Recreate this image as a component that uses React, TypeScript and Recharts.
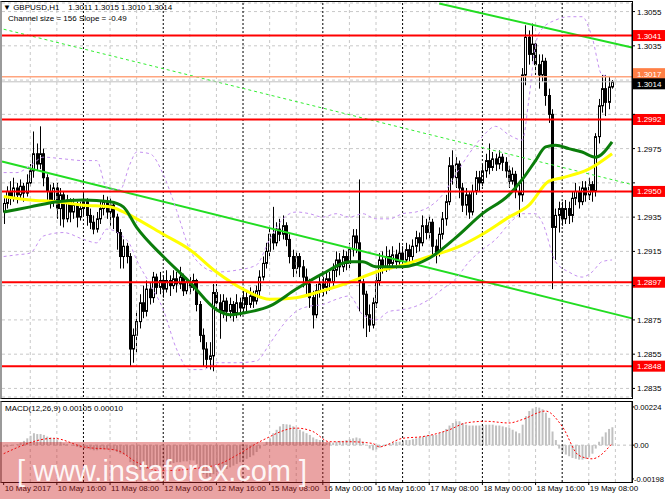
import React from 'react'
import { ComposedChart, Bar, Line, XAxis, YAxis, CartesianGrid, ReferenceLine } from 'recharts'

const FONT = '"Liberation Sans", Arial, sans-serif'

// GBPUSD H1, 10 May 00:00 .. 19 May 15:00 (open of a bar = previous close)
const FIRST_OPEN = 1.2938
const CLOSE = [
  1.2943, 1.2950, 1.2946, 1.2952, 1.2948, 1.2953, 1.2949, 1.2955, 1.2962, 1.2972,
  1.2966, 1.2972, 1.2958, 1.2950, 1.2944, 1.2952, 1.2940, 1.2948, 1.2934, 1.2945,
  1.2938, 1.2942, 1.2935, 1.2940, 1.2944, 1.2936, 1.2932, 1.2928, 1.2934, 1.2940,
  1.2944, 1.2938, 1.2942, 1.2935, 1.2926, 1.2912, 1.2918, 1.2912, 1.2858, 1.2866,
  1.2874, 1.2885, 1.2880, 1.2893, 1.2888, 1.2900, 1.2894, 1.2898, 1.2893, 1.2898,
  1.2895, 1.2899, 1.2896, 1.2900, 1.2892, 1.2897, 1.2894, 1.2898, 1.2884, 1.2866,
  1.2858, 1.2852, 1.2854, 1.2891, 1.2885, 1.2880, 1.2886, 1.2880, 1.2884, 1.2879,
  1.2885, 1.2882, 1.2888, 1.2884, 1.2889, 1.2886, 1.2892, 1.2900, 1.2908, 1.2915,
  1.2925, 1.2920, 1.2928, 1.2925, 1.2930, 1.2922, 1.2912, 1.2905, 1.2912, 1.2906,
  1.2900, 1.2896, 1.2888, 1.2878, 1.2892, 1.2896, 1.2894, 1.2899, 1.2897, 1.2904,
  1.2910, 1.2906, 1.2912, 1.2908, 1.2916, 1.2924, 1.2920, 1.2897, 1.2890, 1.2878,
  1.2872, 1.2885, 1.2898, 1.2910, 1.2906, 1.2912, 1.2908, 1.2913, 1.2909, 1.2914,
  1.2910, 1.2916, 1.2912, 1.2918, 1.2923, 1.2920, 1.2930, 1.2926, 1.2932, 1.2918,
  1.2914, 1.2925, 1.2934, 1.2944, 1.2965, 1.2958, 1.2966, 1.2952, 1.2942, 1.2948,
  1.2938, 1.2950, 1.2958, 1.2955, 1.2962, 1.2968, 1.2964, 1.2969, 1.2966, 1.2970,
  1.2967, 1.2962, 1.2956, 1.2960, 1.2950, 1.2948, 1.3018, 1.3040, 1.3030, 1.3036,
  1.3024, 1.3018, 1.3026, 1.3006, 1.2995, 1.2929, 1.2936, 1.2940, 1.2934, 1.2940,
  1.2936, 1.2946, 1.2950, 1.2944, 1.2952, 1.2948, 1.2954, 1.2950, 1.2982, 1.3000,
  1.3010, 1.3002, 1.3011, 1.3014,
]
const HIGH = [
  1.2946, 1.2953, 1.2956, 1.2958, 1.2955, 1.2957, 1.2955, 1.2960, 1.2966, 1.2985,
  1.2978, 1.2988, 1.2975, 1.2960, 1.2954, 1.2955, 1.2955, 1.2952, 1.2950, 1.2948,
  1.2946, 1.2946, 1.2944, 1.2944, 1.2949, 1.2946, 1.2940, 1.2936, 1.2938, 1.2945,
  1.2948, 1.2947, 1.2946, 1.2944, 1.2937, 1.2928, 1.2922, 1.2920, 1.2914, 1.2870,
  1.2880, 1.2890, 1.2895, 1.2898, 1.2897, 1.2903, 1.2902, 1.2903, 1.2901, 1.2904,
  1.2901, 1.2904, 1.2903, 1.2906, 1.2902, 1.2900, 1.2900, 1.2902, 1.2899, 1.2886,
  1.2870, 1.2862, 1.2862, 1.2896, 1.2896, 1.2890, 1.2890, 1.2888, 1.2888, 1.2886,
  1.2890, 1.2888, 1.2893, 1.2892, 1.2894, 1.2892, 1.2895, 1.2904, 1.2912, 1.2920,
  1.2930, 1.2941, 1.2932, 1.2934, 1.2936, 1.2932, 1.2925, 1.2916, 1.2915, 1.2914,
  1.2910, 1.2905, 1.2899, 1.2892, 1.2896, 1.2900, 1.2900, 1.2903, 1.2903, 1.2908,
  1.2915, 1.2914, 1.2916, 1.2915, 1.2920, 1.2928, 1.2928, 1.2957, 1.2899, 1.2892,
  1.2884, 1.2888, 1.2902, 1.2914, 1.2915, 1.2918, 1.2916, 1.2918, 1.2916, 1.2920,
  1.2918, 1.2920, 1.2919, 1.2922, 1.2927, 1.2926, 1.2936, 1.2934, 1.2936, 1.2934,
  1.2922, 1.2929, 1.2938, 1.2948, 1.2970, 1.2974, 1.2970, 1.2968, 1.2955, 1.2952,
  1.2950, 1.2954, 1.2962, 1.2962, 1.2966, 1.2972, 1.2978, 1.2973, 1.2972, 1.2974,
  1.2972, 1.2970, 1.2965, 1.2964, 1.2962, 1.2954, 1.3022, 1.3047, 1.3044, 1.3048,
  1.3038, 1.3030, 1.3030, 1.3028, 1.3010, 1.2998, 1.2940, 1.2944, 1.2944, 1.2945,
  1.2944, 1.2950, 1.2955, 1.2953, 1.2956, 1.2956, 1.2958, 1.2956, 1.2984, 1.3004,
  1.3018, 1.3018, 1.3017, 1.3015,
]
const LOW = [
  1.2931, 1.2940, 1.2942, 1.2944, 1.2943, 1.2945, 1.2944, 1.2947, 1.2953, 1.2958,
  1.2962, 1.2963, 1.2953, 1.2944, 1.2940, 1.2941, 1.2934, 1.2930, 1.2929, 1.2932,
  1.2932, 1.2934, 1.2929, 1.2933, 1.2936, 1.2930, 1.2928, 1.2925, 1.2926, 1.2931,
  1.2936, 1.2934, 1.2930, 1.2928, 1.2916, 1.2905, 1.2905, 1.2908, 1.2848, 1.2850,
  1.2856, 1.2870, 1.2876, 1.2877, 1.2884, 1.2885, 1.2890, 1.2890, 1.2888, 1.2891,
  1.2889, 1.2893, 1.2891, 1.2893, 1.2889, 1.2890, 1.2890, 1.2892, 1.2880, 1.2862,
  1.2848, 1.2847, 1.2846, 1.2845, 1.2880, 1.2864, 1.2876, 1.2874, 1.2876, 1.2874,
  1.2876, 1.2877, 1.2879, 1.2880, 1.2882, 1.2882, 1.2884, 1.2889, 1.2898, 1.2905,
  1.2912, 1.2916, 1.2918, 1.2921, 1.2922, 1.2918, 1.2908, 1.2900, 1.2902, 1.2900,
  1.2894, 1.2890, 1.2882, 1.2870, 1.2876, 1.2888, 1.2889, 1.2890, 1.2892, 1.2895,
  1.2900, 1.2901, 1.2903, 1.2904, 1.2905, 1.2912, 1.2914, 1.2880, 1.2870, 1.2865,
  1.2868, 1.2870, 1.2882, 1.2895, 1.2902, 1.2903, 1.2904, 1.2905, 1.2905, 1.2906,
  1.2906, 1.2907, 1.2908, 1.2909, 1.2914, 1.2915, 1.2918, 1.2922, 1.2922, 1.2912,
  1.2908, 1.2912, 1.2922, 1.2930, 1.2942, 1.2954, 1.2952, 1.2946, 1.2938, 1.2936,
  1.2934, 1.2936, 1.2948, 1.2950, 1.2953, 1.2958, 1.2960, 1.2962, 1.2962, 1.2963,
  1.2962, 1.2958, 1.2952, 1.2954, 1.2946, 1.2935, 1.2944, 1.3012, 1.3024, 1.3026,
  1.3018, 1.3010, 1.3014, 1.3000, 1.2990, 1.2893, 1.2910, 1.2926, 1.2930, 1.2931,
  1.2931, 1.2932, 1.2942, 1.2940, 1.2942, 1.2944, 1.2945, 1.2944, 1.2947, 1.2978,
  1.2996, 1.2994, 1.2998, 1.3010,
]

// indicator lines at these bar indexes
const GREEN_AT = [0, 8, 16, 24, 32, 36, 40, 48, 56, 64, 68, 72, 80, 88, 96, 104, 108, 112, 120, 128, 136, 144, 152, 156, 160, 163, 166, 170, 174, 178, 183]
const GREEN_MA = [1.2938, 1.2941, 1.2944, 1.2945, 1.2944, 1.2941, 1.2929, 1.2912, 1.2897, 1.2881, 1.2878, 1.2879, 1.2883, 1.2893, 1.2902, 1.2909, 1.2909, 1.2906, 1.2906, 1.2911, 1.2923, 1.2937, 1.2948, 1.2957, 1.2968, 1.2976, 1.2977, 1.2975, 1.2973, 1.2970, 1.2979]
const YELLOW_AT = [0, 8, 16, 24, 32, 36, 40, 48, 56, 64, 72, 80, 88, 96, 104, 112, 120, 128, 136, 144, 152, 158, 164, 168, 176, 183]
const YELLOW_MA = [1.2947, 1.2945, 1.2944, 1.2942, 1.2941, 1.2938, 1.2934, 1.2925, 1.2916, 1.2903, 1.2893, 1.2887, 1.2888, 1.2892, 1.2897, 1.2903, 1.2907, 1.2912, 1.2917, 1.2925, 1.2935, 1.2942, 1.2956, 1.2958, 1.2963, 1.2972]
const BAND_AT = [0, 4, 8, 12, 18, 24, 28, 31, 35, 38, 40, 44, 48, 52, 56, 60, 64, 70, 76, 80, 84, 88, 92, 96, 100, 104, 108, 112, 116, 120, 124, 128, 132, 136, 140, 144, 148, 152, 156, 158, 160, 162, 166, 170, 174, 177, 180, 183]
const BAND_UP = [1.2961, 1.2961, 1.2965, 1.2970, 1.2969, 1.2968, 1.2968, 1.2952, 1.2951, 1.2966, 1.2973, 1.2972, 1.2960, 1.2939, 1.2916, 1.2906, 1.2903, 1.2904, 1.2907, 1.2922, 1.2934, 1.2938, 1.2937, 1.2935, 1.2937, 1.2935, 1.2937, 1.2934, 1.2934, 1.2937, 1.2938, 1.2941, 1.2948, 1.2960, 1.2972, 1.2982, 1.2988, 1.2983, 1.2980, 1.3004, 1.3036, 1.3045, 1.3050, 1.3052, 1.3052, 1.3040, 1.3018, 1.3017]
const BAND_DN = [1.2912, 1.2913, 1.2914, 1.2924, 1.2926, 1.2922, 1.2920, 1.2928, 1.2925, 1.2919, 1.2910, 1.2896, 1.2881, 1.2858, 1.2846, 1.2846, 1.2850, 1.2850, 1.2851, 1.2861, 1.2872, 1.2880, 1.2883, 1.2884, 1.2887, 1.2889, 1.2878, 1.2875, 1.2880, 1.2881, 1.2883, 1.2887, 1.2893, 1.2899, 1.2909, 1.2916, 1.2922, 1.2931, 1.2937, 1.2937, 1.2937, 1.2932, 1.2909, 1.2903, 1.2900, 1.2903, 1.2909, 1.2910]

const MACD = [
  -0.0001, -0.0001, -0.00005, 0, 0.00005, 0.00015, 0.00025, 0.0004, 0.00055, 0.0007,
  0.00065, 0.00065, 0.0006, 0.0005, 0.00045, 0.0004, 0.0003, 0.0002, 0.0001, 0.00005,
  0, -0.00005, -0.0001, -0.00015, -0.0002, -0.0002, -0.00025, -0.0003, -0.0003, -0.00025,
  -0.00025, -0.00025, -0.00025, -0.0003, -0.0004, -0.0005, -0.00055, -0.0006, -0.001, -0.0013,
  -0.0014, -0.00145, -0.00145, -0.0014, -0.00135, -0.0013, -0.00125, -0.0012, -0.0012, -0.00115,
  -0.0011, -0.00105, -0.001, -0.001, -0.00095, -0.00095, -0.0009, -0.0009, -0.0011, -0.0014,
  -0.0017, -0.0019, -0.00198, -0.0017, -0.0016, -0.00155, -0.0015, -0.0014, -0.0013, -0.0012,
  -0.0011, -0.001, -0.0009, -0.0008, -0.0007, -0.0006, -0.0004, -0.0002, 0, 0.0002,
  0.0004, 0.0007, 0.0009, 0.0011, 0.00124, 0.00122, 0.0012, 0.0011, 0.001, 0.0009,
  0.0008, 0.0007, 0.0006, 0.00045, 0.00035, 0.0003, 0.0002, 0.00015, 0.00015, 0.00015,
  0.0002, 0.00025, 0.00025, 0.0003, 0.00035, 0.0004, 0.00045, 0.0004, 0.0002, 0,
  -0.0002, -0.0003, -0.00025, -0.00015, -0.00005, 0.00005, 0.0001, 0.00015, 0.0002, 0.0002,
  0.00025, 0.0003, 0.0003, 0.00035, 0.0004, 0.00045, 0.0005, 0.00055, 0.0006, 0.0006,
  0.0006, 0.0007, 0.0008, 0.00095, 0.00115, 0.0013, 0.0014, 0.0014, 0.0013, 0.0012,
  0.00115, 0.00115, 0.00115, 0.00115, 0.00115, 0.0012, 0.0012, 0.0012, 0.00115, 0.00115,
  0.0011, 0.00105, 0.001, 0.0009, 0.0008, 0.0007, 0.0012, 0.0017, 0.002, 0.00215,
  0.00224, 0.0022, 0.0021, 0.0019, 0.0016, 0.0008, 0.0003, -0.0002, -0.0004, -0.00055,
  -0.00065, -0.00075, -0.0008, -0.00085, -0.00085, -0.0008, -0.0007, -0.0005, -0.0002, 0.0002,
  0.0005, 0.00075, 0.00095, 0.00105,
]
const SIGNAL_AT = [0, 15, 24, 34, 40, 47, 56, 65, 70, 78, 88, 93, 98, 104, 111, 113, 120, 126, 134, 139, 145, 152, 156, 163, 168, 173, 177, 183]
const SIGNAL = [-0.0005, 0.0004, -0.0001, -0.0003, -0.001, -0.0015, -0.0014, -0.0011, -0.0006, 0.0003, 0.001, 0.0008, 0.0002, 0.0002, 0.0001, -0.0001, 0.0004, 0.0005, 0.0009, 0.0013, 0.0014, 0.0013, 0.0015, 0.002, 0.0011, -0.0006, -0.0008, 0.0001]

const PRICE_TICKS = [1.2835, 1.2855, 1.2875, 1.2895, 1.2915, 1.2935, 1.2955, 1.2975, 1.2995, 1.3015, 1.3035, 1.3055]
const COVERED_TICKS = [1.2895, 1.2955, 1.2995, 1.3015]
const MACD_TICKS = [-0.00198, 0, 0.00224]
const TIME_AT = [0, 16, 32, 48, 64, 80, 96, 112, 128, 144, 160, 176]
const TIME_LABELS = ['10 May 2017', '10 May 16:00', '11 May 08:00', '12 May 00:00', '12 May 16:00', '15 May 08:00', '16 May 00:00', '16 May 16:00', '17 May 08:00', '18 May 00:00', '18 May 16:00', '19 May 08:00']
const GRID_AT = [8, 16, 32, 40, 56, 64, 80, 88, 104, 112, 128, 136, 152, 160, 176, 184]
const DAY_AT = [24, 48, 72, 96, 120, 144, 168]

const RED_LEVELS = [1.3041, 1.2992, 1.295, 1.2897, 1.2848]
const ASK = 1.3017
const BID = 1.3014
const CHANNEL_TOP = [{ x: 131, y: 1.30597 }, { x: 189, y: 1.3034 }]
const CHANNEL_BOTTOM = [{ x: -0.5, y: 1.29675 }, { x: 189, y: 1.28759 }]
const CHANNEL_MID = [{ x: 0, y: 1.30447 }, { x: 189, y: 1.2954 }]

const pick = (at: number[], vals: number[], i: number) => {
  const k = at.indexOf(i)
  return k < 0 ? null : vals[k]
}

const rows = CLOSE.map((c, i) => ({
  i,
  o: i === 0 ? FIRST_OPEN : CLOSE[i - 1],
  h: HIGH[i],
  l: LOW[i],
  c,
  green: pick(GREEN_AT, GREEN_MA, i),
  yellow: pick(YELLOW_AT, YELLOW_MA, i),
  up: pick(BAND_AT, BAND_UP, i),
  dn: pick(BAND_AT, BAND_DN, i),
  m: MACD[i],
  s: pick(SIGNAL_AT, SIGNAL, i),
}))

function Candle(props: any) {
  const { x, y, width, height, payload } = props
  if (x == null || y == null || !payload) return <g />
  const top = Math.min(y, y + height)
  const bot = Math.max(y, y + height)
  const span = payload.h - payload.l
  const at = (v: number) => (span > 0 ? top + ((payload.h - v) / span) * (bot - top) : top)
  const cx = Math.round(x + width / 2) + 0.5
  const yo = at(payload.o)
  const yc = at(payload.c)
  const bull = payload.c >= payload.o
  const bt = Math.min(yo, yc)
  const bh = Math.max(Math.abs(yc - yo), 1)
  return (
    <g>
      <line x1={cx} x2={cx} y1={top} y2={bot} stroke="#000" strokeWidth={1} />
      <rect x={cx - 1} y={bt} width={2} height={bh} fill={bull ? '#fff' : '#000'} stroke="#000" strokeWidth={1} />
    </g>
  )
}

// price box on the right axis; shift nudges the two close bid/ask boxes apart
function Tag(props: any) {
  const { viewBox, text, bg, shift = 0 } = props
  if (!viewBox) return <g />
  const x = viewBox.x + viewBox.width + 1
  const y = viewBox.y + shift
  return (
    <g>
      <rect x={x} y={y - 5.5} width={32} height={11} fill={bg} />
      <text x={x + 4} y={y + 3} fontSize={8} fontFamily={FONT} fill="#fff">{text}</text>
    </g>
  )
}

function PriceTick(props: any) {
  const { x, y, payload } = props
  if (COVERED_TICKS.includes(payload.value)) return <g />
  return (
    <text x={x} y={y + 3} fontSize={8} fontFamily={FONT} fill="#000" textAnchor="start">
      {payload.value.toFixed(4)}
    </text>
  )
}

function MacdTick(props: any) {
  const { x, y, payload } = props
  const label = payload.value === 0 ? '0.00' : payload.value.toFixed(5)
  return (
    <text x={x} y={y + 3} fontSize={7.6} fontFamily={FONT} fill="#000" textAnchor="start">{label}</text>
  )
}

function TimeTick(props: any) {
  const { x, y, payload } = props
  const k = TIME_AT.indexOf(payload.value)
  return (
    <text x={x + 1} y={y + 6} fontSize={8} fontFamily={FONT} fill="#000" textAnchor="start">
      {TIME_LABELS[k]}
    </text>
  )
}

const frame = (top: number, height: number): React.CSSProperties => ({
  position: 'absolute', left: 0, top, width: 633, height, boxSizing: 'border-box',
  borderTop: '1px solid #000', borderRight: '1px solid #000', borderBottom: '1px solid #000',
  borderLeft: '2px solid #9a9a9a', pointerEvents: 'none',
})

export default function App() {
  return (
    <div style={{ position: 'absolute', left: 0, top: 0, width: 665, height: 499, background: '#fff', overflow: 'hidden', fontFamily: FONT }}>
      <div style={{ position: 'absolute', left: 0, top: 0 }}>
        <ComposedChart width={665} height={400} data={rows} margin={{ top: 3, right: 0, bottom: 3, left: 2 }}>
          <XAxis type="number" dataKey="i" domain={[-0.5, 189]} hide allowDataOverflow />
          <YAxis
            orientation="right" type="number" domain={[1.283, 1.306]} ticks={PRICE_TICKS} interval={0}
            width={33} allowDataOverflow tick={<PriceTick />} tickSize={3} tickMargin={2}
            tickLine={{ stroke: '#000' }} axisLine={{ stroke: '#000' }}
          />
          <CartesianGrid vertical={false} stroke="#c8c8c8" strokeDasharray="3 3" />
          {GRID_AT.map((v) => <ReferenceLine key={'g' + v} x={v} stroke="#c8c8c8" strokeDasharray="3 3" />)}
          {DAY_AT.map((v) => <ReferenceLine key={'d' + v} x={v} stroke="#000" strokeDasharray="2 2" />)}
          <ReferenceLine segment={CHANNEL_MID} stroke="#33ee33" strokeDasharray="3 3" />
          <ReferenceLine segment={CHANNEL_TOP} stroke="#22dd22" strokeWidth={2} />
          <ReferenceLine segment={CHANNEL_BOTTOM} stroke="#22dd22" strokeWidth={2} />
          <Line dataKey="up" type="monotone" stroke="#c490f0" strokeDasharray="3 3" dot={false} connectNulls isAnimationActive={false} />
          <Line dataKey="dn" type="monotone" stroke="#c490f0" strokeDasharray="3 3" dot={false} connectNulls isAnimationActive={false} />
          <Line dataKey="yellow" type="monotone" stroke="#ffff00" strokeWidth={3} dot={false} connectNulls isAnimationActive={false} />
          <Line dataKey="green" type="monotone" stroke="#0b7d0b" strokeWidth={3} dot={false} connectNulls isAnimationActive={false} />
          <Bar dataKey={(d: any) => [d.l, d.h]} shape={<Candle />} barSize={3} isAnimationActive={false} />
          {RED_LEVELS.map((v) => (
            <ReferenceLine key={'r' + v} y={v} stroke="#ff0000" strokeWidth={2} label={<Tag bg="#ff0000" text={v.toFixed(4)} />} />
          ))}
          <ReferenceLine key="ask" y={ASK} stroke="#ffa57f" strokeWidth={1.5} label={<Tag bg="#ff7f45" text={ASK.toFixed(4)} shift={-3} />} />
          <ReferenceLine key="bid" y={BID} stroke="#c0c0c0" label={<Tag bg="#000" text={BID.toFixed(4)} shift={2} />} />
        </ComposedChart>
      </div>

      <div style={{ position: 'absolute', left: 0, top: 399 }}>
        <ComposedChart width={665} height={100} data={rows} margin={{ top: 3, right: 0, bottom: 0, left: 2 }}>
          <XAxis
            type="number" dataKey="i" domain={[-0.5, 189]} allowDataOverflow ticks={TIME_AT} interval={0}
            height={17} tick={<TimeTick />} tickSize={3} tickMargin={0} tickLine={{ stroke: '#000' }} axisLine={false}
          />
          <YAxis
            orientation="right" type="number" domain={[-0.00216, 0.00253]} ticks={MACD_TICKS} interval={0}
            width={33} allowDataOverflow tick={<MacdTick />} tickSize={2} tickMargin={0}
            tickLine={{ stroke: '#000' }} axisLine={{ stroke: '#000' }}
          />
          {GRID_AT.map((v) => <ReferenceLine key={'mg' + v} x={v} stroke="#c8c8c8" strokeDasharray="3 3" />)}
          {DAY_AT.map((v) => <ReferenceLine key={'md' + v} x={v} stroke="#000" strokeDasharray="2 2" />)}
          <ReferenceLine y={0} stroke="#c0c0c0" strokeDasharray="3 3" />
          <Bar dataKey="m" fill="#c0c0c0" barSize={2} isAnimationActive={false} />
          <Line dataKey="s" type="monotone" stroke="#ff0000" strokeDasharray="2 2" dot={false} connectNulls isAnimationActive={false} />
        </ComposedChart>
      </div>

      <div style={frame(1, 398)} />
      <div style={frame(401, 82)} />

      <div style={{ position: 'absolute', left: 3, top: 3, fontSize: 8, lineHeight: '10px', whiteSpace: 'pre', color: '#000' }}>
        {'▼ GBPUSD,H1    1.3011 1.3015 1.3010 1.3014'}
      </div>
      <div style={{ position: 'absolute', left: 8, top: 14, fontSize: 8, lineHeight: '10px', whiteSpace: 'pre', color: '#000' }}>
        Channel size = 156 Slope = -0.49
      </div>
      <div style={{ position: 'absolute', left: 5, top: 404, fontSize: 8, lineHeight: '10px', whiteSpace: 'pre', color: '#000' }}>
        MACD(12,26,9) 0.00105 0.00010
      </div>

      <div style={{ position: 'absolute', left: 0, top: 442, width: 330, height: 57, background: 'rgba(205,35,35,0.42)', pointerEvents: 'none' }}>
        <div style={{ position: 'absolute', left: 17, top: 15, fontSize: 29, lineHeight: '29px', whiteSpace: 'pre', color: 'rgba(255,255,255,0.92)' }}>
          {'[ www.instaforex.com ]'}
        </div>
      </div>
    </div>
  )
}
